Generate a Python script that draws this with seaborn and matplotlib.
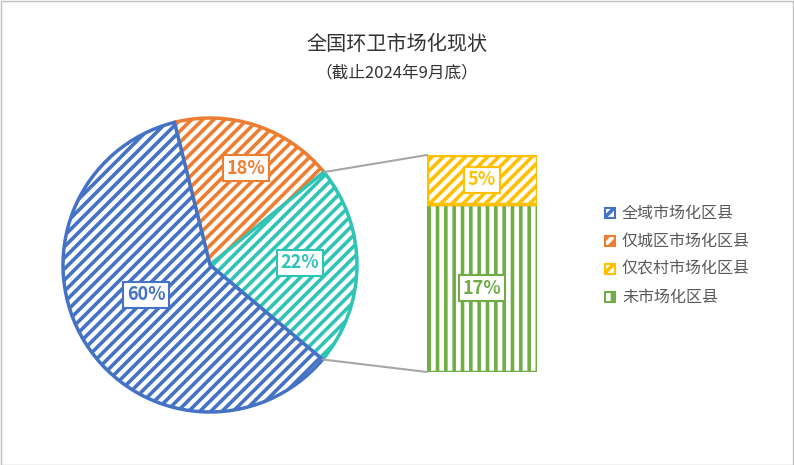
import matplotlib
matplotlib.use("Agg")
import matplotlib.pyplot as plt
import seaborn as sns
import numpy as np
from matplotlib.patches import ConnectionPatch, Rectangle

sns.set_theme(style="white")
plt.rcParams["font.family"] = "Noto Sans CJK SC"
plt.rcParams["hatch.linewidth"] = 2.6

pie_labels = ["仅城区市场化区县", "其他", "全域市场化区县"]
pie_values = [18, 22, 60]
pie_colors = ["#ED7D31", "#2EC4B6", "#4472C4"]
bar_labels = ["未市场化区县", "仅农村市场化区县"]
bar_values = [17, 5]
bar_colors = ["#70AD47", "#FFC000"]
legend_labels = ["全域市场化区县", "仅城区市场化区县", "仅农村市场化区县", "未市场化区县"]
legend_colors = ["#4472C4", "#ED7D31", "#FFC000", "#70AD47"]

W, H = 794, 465
fig = plt.figure(figsize=(W/100, H/100), dpi=100)
fig.patches.append(Rectangle((0.001, 0.001), 0.998, 0.997, transform=fig.transFigure,
                             fill=False, edgecolor="#BFBFBF", lw=1))
fig.text(397/W, 1-45/H, "全国环卫市场化现状", ha="center", va="center", fontsize=14.5, color="#333333")
fig.text(397/W, 1-73/H, "（截止2024年9月底）", ha="center", va="center", fontsize=12, color="#333333")

cx, cy, R = 210, 265, 150
ax = fig.add_axes([(cx-R)/W, (H-cy-R)/H, 2*R/W, 2*R/H])
wedges, _ = ax.pie(pie_values, colors=["white"]*3, startangle=104, counterclock=False,
                   radius=147/150, wedgeprops=dict(linewidth=2.5))
for w, c in zip(wedges, pie_colors):
    w.set_edgecolor(c)
    w.set_hatch("///")
ax.set_xlim(-1, 1); ax.set_ylim(-1, 1); ax.set_aspect("equal"); ax.axis("off")

def box(a, x, y, txt, c):
    a.text(x, y, txt, ha="center", va="center", fontsize=13, fontweight="bold",
           color=c, bbox=dict(boxstyle="square,pad=0.2", fc="white", ec=c, lw=1.5))

for (px, py), v, c in zip([(246, 168), (300, 263), (146, 295)], pie_values, pie_colors):
    box(ax, (px-cx)/R, (cy-py)/R, f"{v}%", c)

bx0, bx1, by0, by1 = 427, 537, 155, 372
bax = fig.add_axes([bx0/W, (H-by1)/H, (bx1-bx0)/W, (by1-by0)/H])
bottoms = np.cumsum([0] + bar_values[:-1])
hatches = ["||", "///"]
for v, b, c, h in zip(bar_values, bottoms, bar_colors, hatches):
    bax.bar(0, v, bottom=b, width=1, color="white", edgecolor=c, hatch=h, linewidth=2.5)
bax.set_xlim(-0.5, 0.5); bax.set_ylim(0, sum(bar_values)); bax.axis("off")
for v, b, c in zip(bar_values, bottoms, bar_colors):
    box(bax, 0, b + v/2, f"{v}%", c)

r = 147/150
for ang, by in [(np.deg2rad(104-18*3.6), sum(bar_values)), (np.deg2rad(104-40*3.6), 0)]:
    con = ConnectionPatch(xyA=(r*np.cos(ang), r*np.sin(ang)), coordsA=ax.transData,
                          xyB=(-0.5, by), coordsB=bax.transData, color="#A6A6A6", lw=1.5)
    fig.add_artist(con)

for i, (lab, c) in enumerate(zip(legend_labels, legend_colors)):
    y = 1 - (213 + 28*i)/H
    fig.patches.append(Rectangle((605/W, y-5/H), 10/W, 10/H, transform=fig.transFigure,
                                 facecolor="white", edgecolor=c, hatch="///" if i < 3 else "||", lw=1.5))
    fig.text(622/W, y, lab, va="center", ha="left", fontsize=11.5, color="#595959")

fig.savefig("out.png", dpi=100)
